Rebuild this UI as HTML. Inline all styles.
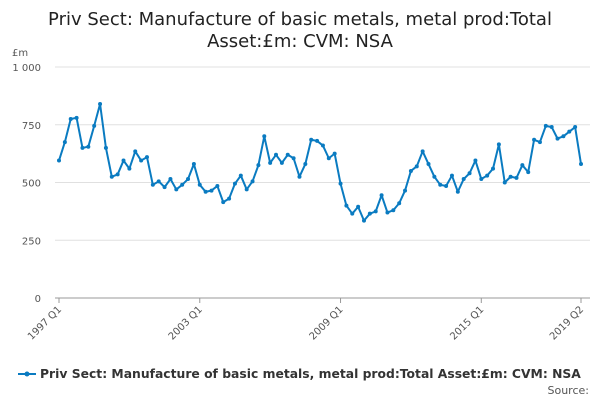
<!DOCTYPE html>
<html><head><meta charset="utf-8"><style>
body{margin:0;background:#fff;font-family:"DejaVu Sans",sans-serif;}
svg text{font-family:"DejaVu Sans",sans-serif;}
</style></head><body>
<svg width="600" height="400" id="c">
<text x="300" y="25" text-anchor="middle" font-size="18" fill="#222">Priv Sect: Manufacture of basic metals, metal prod:Total</text>
<text x="300" y="47" text-anchor="middle" font-size="18" fill="#222">Asset:£m: CVM: NSA</text>
<text x="12" y="56" font-size="10" fill="#555">£m</text>
<g id="grid"></g><g id="series"></g>
<line x1="18" y1="374" x2="36" y2="374" stroke="#0a7bc1" stroke-width="2"/>
<circle cx="27" cy="374" r="2.5" fill="#0a7bc1"/>
<text x="40" y="378" font-size="12.35" font-weight="bold" fill="#333">Priv Sect: Manufacture of basic metals, metal prod:Total Asset:£m: CVM: NSA</text>
<text x="589" y="394" text-anchor="end" font-size="11" fill="#555">Source:</text>
</svg>
<script>
const values=[595,675,775,780,650,655,745,840,650,525,535,595,560,635,595,610,490,505,480,515,470,490,515,580,490,460,465,485,415,430,495,530,470,505,575,700,585,620,585,620,605,525,580,685,680,660,605,625,495,400,365,395,335,365,375,445,370,380,410,465,550,570,635,580,525,490,485,530,460,515,540,595,515,530,560,665,500,525,520,575,545,685,675,745,740,690,700,720,740,580];
const yTicks=[0,250,500,750,1000];
const yTickLabels=["0","250","500","750","1 000"];
const xTickIdx=[0,24,48,72,89];
const xTickLabels=["1997 Q1","2003 Q1","2009 Q1","2015 Q1","2019 Q2"];
const NS="http://www.w3.org/2000/svg";
const x0=59,x1=581,y0=298,y1=67;
const xs=i=>x0+(x1-x0)*i/(values.length-1);
const ys=v=>y0-(y0-y1)*v/1000;
const g=document.getElementById('grid'),s=document.getElementById('series');
function mk(t,a,p){const e=document.createElementNS(NS,t);for(const k in a)e.setAttribute(k,a[k]);p.appendChild(e);return e;}
yTicks.forEach((v,i)=>{
 const l=mk('line',{x1:x0-4,x2:590,y1:ys(v),y2:ys(v),stroke:v===0?'#999':'#e0e0e0'},g);
 
 
 const t=mk('text',{x:41,y:ys(v)+4,'text-anchor':'end','font-size':10,fill:'#555'},g);
 t.textContent=yTickLabels[i];
 
 
});
xTickIdx.forEach((idx,i)=>{
 const l=mk('line',{x1:xs(idx),x2:xs(idx),y1:y0,y2:y0+5,stroke:'#999'},g);
 
 
 const t=mk('text',{x:xs(idx)+3,y:y0+12,'text-anchor':'end','font-size':10,fill:'#555',transform:`rotate(-45 ${xs(idx)+3} ${y0+12})`},g);
 t.textContent=xTickLabels[i];
 
 
});
const p=mk('polyline',{points:values.map((v,i)=>xs(i)+','+ys(v)).join(' '),fill:'none',stroke:'#0a7bc1','stroke-width':2,'stroke-linejoin':'round'},s);


values.forEach((v,i)=>{
 const c=mk('circle',{cx:xs(i),cy:ys(v),r:2,fill:'#0a7bc1'},s);
 
 
});
</script>
</body></html>
